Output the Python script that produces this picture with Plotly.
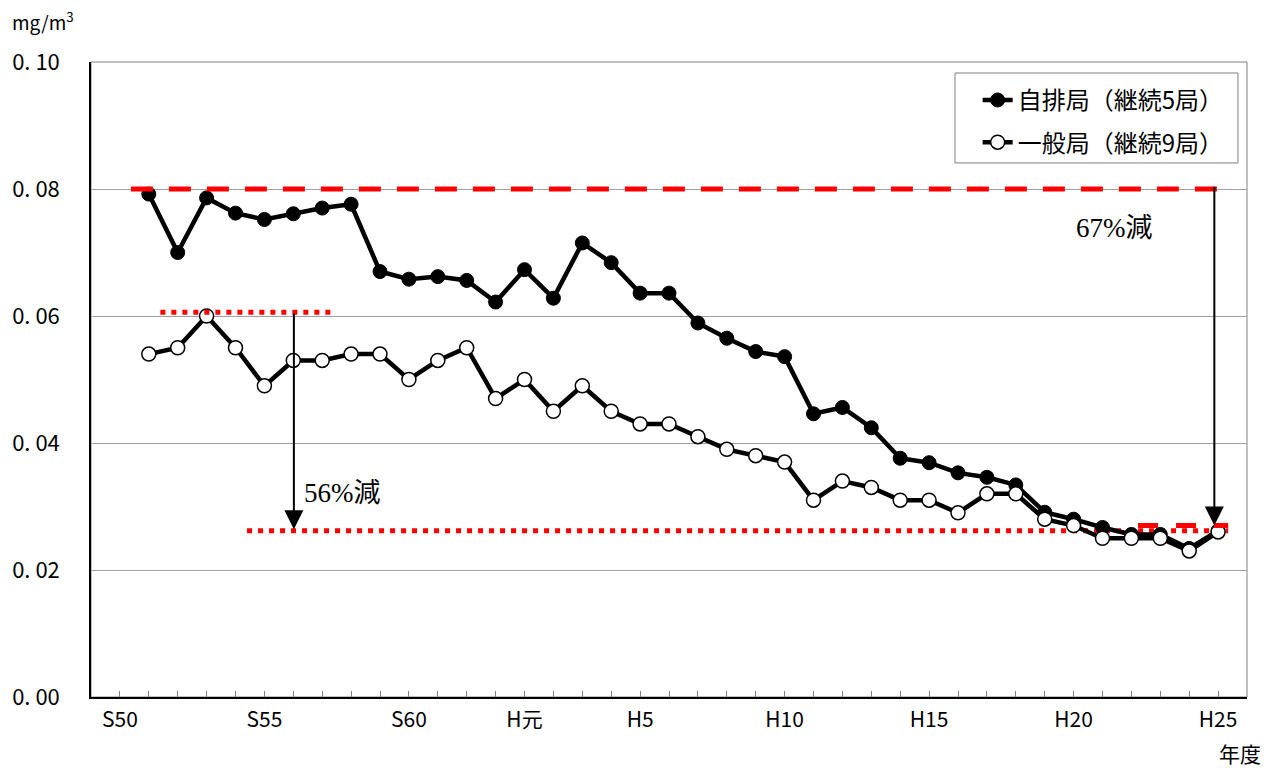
import plotly.graph_objects as go

years = list(range(1976, 2014))
jihai = [0.0792, 0.0700, 0.0786, 0.0762, 0.0752, 0.0761, 0.0770, 0.0776, 0.0670, 0.0658,
         0.0662, 0.0656, 0.0622, 0.0673, 0.0628, 0.0715, 0.0684, 0.0636, 0.0636, 0.0589,
         0.0565, 0.0544, 0.0536, 0.0446, 0.0456, 0.0424, 0.0376, 0.0369, 0.0353, 0.0346,
         0.0334, 0.0291, 0.0280, 0.0267, 0.0256, 0.0256, 0.0234, 0.0262]
ippan = [0.054, 0.055, 0.060, 0.055, 0.049, 0.053, 0.053, 0.054, 0.054, 0.050,
         0.053, 0.055, 0.047, 0.050, 0.045, 0.049, 0.045, 0.043, 0.043, 0.041,
         0.039, 0.038, 0.037, 0.031, 0.034, 0.033, 0.031, 0.031, 0.029, 0.032,
         0.032, 0.028, 0.027, 0.025, 0.025, 0.025, 0.023, 0.026]

tick_years = list(range(1975, 2014))
tick_labels = {1975: "S50", 1980: "S55", 1985: "S60", 1989: "H元", 1993: "H5",
               1998: "H10", 2003: "H15", 2008: "H20", 2013: "H25"}
y_ticks = [0.0, 0.02, 0.04, 0.06, 0.08, 0.10]
y_labels = ["0. 00", "0. 02", "0. 04", "0. 06", "0. 08", "0. 10"]

# reference / target levels
level_jihai_start = 0.080
level_ippan_start = 0.0606
level_ippan_end = 0.0262
level_jihai_end = 0.0270

FONT = "Noto Sans CJK JP"
SERIF = "Liberation Serif, Noto Sans CJK JP"

fig = go.Figure()

# dotted line at end level of ippan (under the data)
fig.add_trace(go.Scatter(x=[1979.4, 2013.35], y=[level_ippan_end, level_ippan_end],
                         mode="lines", line=dict(color="#ff0000", width=5, dash="5px,6px"),
                         showlegend=False, hoverinfo="skip"))

fig.add_trace(go.Scatter(x=years, y=jihai, mode="lines+markers", name="自排局（継続5局）",
                         legendgroup="a",
                         line=dict(color="black", width=4.5),
                         marker=dict(symbol="circle", size=14, color="black",
                                     line=dict(color="black", width=1))))
fig.add_trace(go.Scatter(x=years, y=ippan, mode="lines+markers", name="一般局（継続9局）",
                         legendgroup="b",
                         line=dict(color="black", width=4.5),
                         marker=dict(symbol="circle", size=14, color="white",
                                     line=dict(color="black", width=1.5))))

# red lines on top
fig.add_trace(go.Scatter(x=[1975.38, 2013.35], y=[level_jihai_start, level_jihai_start],
                         mode="lines", line=dict(color="#ff0000", width=5, dash="22px,16px"),
                         showlegend=False, hoverinfo="skip"))
fig.add_trace(go.Scatter(x=[1976.4, 1982.45], y=[level_ippan_start, level_ippan_start],
                         mode="lines", line=dict(color="#ff0000", width=5, dash="5px,6px"),
                         showlegend=False, hoverinfo="skip"))
fig.add_trace(go.Scatter(x=[2010.23, 2013.35], y=[level_jihai_end, level_jihai_end],
                         mode="lines", line=dict(color="#ff0000", width=5, dash="20px,18px"),
                         showlegend=False, hoverinfo="skip"))

# plot frame
fig.add_shape(type="rect", xref="paper", yref="paper", x0=0, x1=1, y0=0, y1=1,
              line=dict(color="#808080", width=1), layer="below")
# legend frame
fig.add_shape(type="rect", xref="paper", yref="paper", x0=0.7474, x1=0.9922,
              y0=0.841, y1=0.9827, line=dict(color="#808080", width=1),
              fillcolor="white", layer="below")

annotations = [
    dict(x=1981.02, y=level_ippan_end + 0.0002, ax=1981.02, ay=level_ippan_start,
         xref="x", yref="y", axref="x", ayref="y", showarrow=True,
         arrowhead=2, arrowsize=1.9, arrowwidth=2, arrowcolor="black", text=""),
    dict(x=2012.87, y=level_jihai_end, ax=2012.87, ay=0.0806,
         xref="x", yref="y", axref="x", ayref="y", showarrow=True,
         arrowhead=2, arrowsize=1.9, arrowwidth=2, arrowcolor="black", text=""),
    dict(x=1982.7, y=0.0322, xref="x", yref="y", text="56%減", showarrow=False,
         font=dict(family=SERIF, size=27, color="black")),
    dict(x=2009.4, y=0.0739, xref="x", yref="y", text="67%減", showarrow=False,
         font=dict(family=SERIF, size=27, color="black")),
    dict(x=-0.0700, y=1.064, xref="paper", yref="paper", text="mg/m<sup>3</sup>",
         showarrow=False, xanchor="left", yanchor="middle",
         font=dict(family=FONT, size=19, color="black")),
    dict(x=0.994, y=-0.088, xref="paper", yref="paper", text="年度",
         showarrow=False, xanchor="center", yanchor="middle",
         font=dict(family=FONT, size=21, color="black")),
]

# page has an 8px body margin: shrink figure and margins to compensate
fig.update_layout(
    width=1261, height=761,
    margin=dict(l=83, r=22, t=54, b=72, autoexpand=False),
    paper_bgcolor="white", plot_bgcolor="white",
    font=dict(family=FONT, size=20, color="black"),
    annotations=annotations,
    showlegend=True,
    legend=dict(x=0.767, y=0.975, xanchor="left", yanchor="top",
                bgcolor="rgba(0,0,0,0)", borderwidth=0,
                font=dict(family=FONT, size=24, color="black"),
                tracegroupgap=8, traceorder="grouped"),
)

fig.update_xaxes(range=[1974, 2014], tickmode="array", tickvals=tick_years,
                 ticktext=[tick_labels.get(y, "") for y in tick_years],
                 ticks="inside", ticklen=6, tickcolor="#808080", tickwidth=1,
                 showline=True, linecolor="black", linewidth=1.5,
                 showgrid=False, zeroline=False, ticklabelstandoff=3, automargin=False,
                 tickfont=dict(family=FONT, size=21))
fig.update_yaxes(range=[0, 0.10], tickmode="array", tickvals=y_ticks, ticktext=y_labels,
                 ticks="", showline=True, linecolor="black", linewidth=1.5,
                 showgrid=True, gridcolor="#a0a0a0", gridwidth=1, zeroline=False,
                 ticklabelstandoff=25, automargin=False, tickfont=dict(family=FONT, size=22))

fig.write_html("out.html")
